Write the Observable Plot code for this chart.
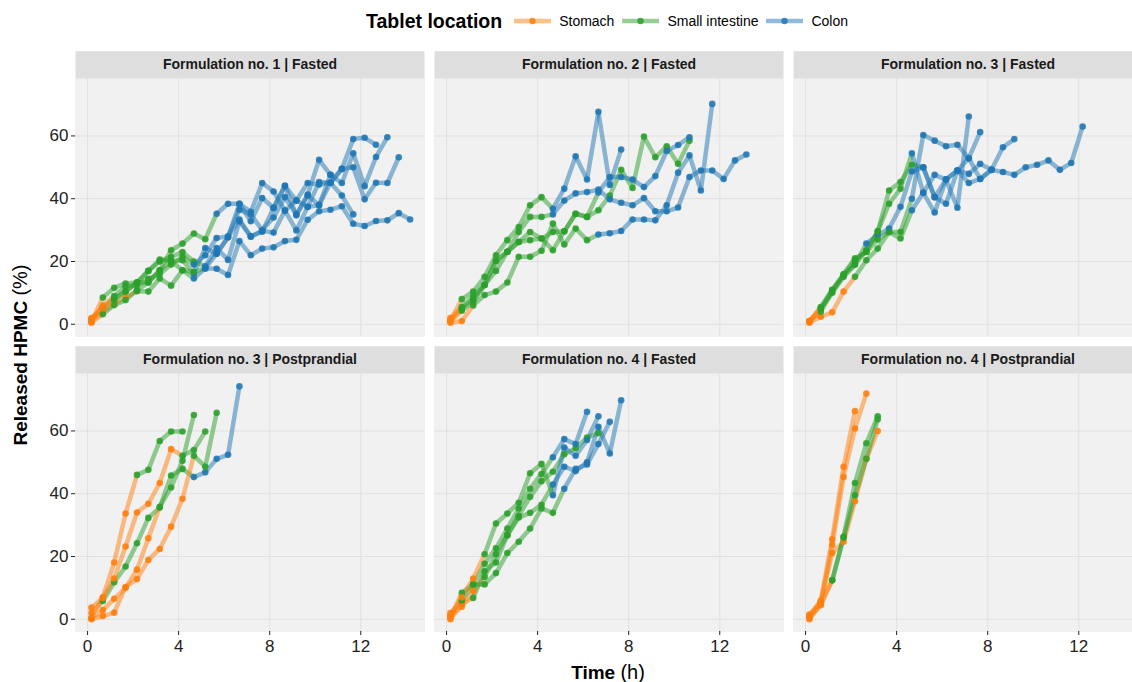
<!DOCTYPE html>
<html>
<head>
<meta charset="utf-8">
<script src="https://cdn.jsdelivr.net/npm/d3@7"></script>
<script src="https://cdn.jsdelivr.net/npm/@observablehq/plot@0.6"></script>
<style>
  html, body { margin: 0; padding: 0; background: #fff; }
  #wrap { position: relative; width: 1132px; height: 682px; overflow: hidden; background: #fff;
          font-family: "Liberation Sans", Arial, Helvetica, sans-serif; color: #000; }
  #chart { position: absolute; left: 0; top: 0; }
  #chart svg { max-width: none !important; }
  #legend { position: absolute; left: 366px; top: 8px; height: 26px; display: flex; align-items: center; white-space: nowrap; }
  #legend .title { font-weight: bold; font-size: 19.5px; margin-right: 12px; }
  #legend .key { display: flex; align-items: center; margin-right: 8px; }
  #legend .key span { font-size: 14px; margin-left: 8px; }
  #ylabel { position: absolute; left: 20px; top: 355px; transform: translate(-50%, -50%) rotate(-90deg);
            white-space: nowrap; font-size: 19px; line-height: 1; }
  #xlabel { position: absolute; left: 608px; top: 672px; transform: translate(-50%, -50%);
            white-space: nowrap; font-size: 19px; line-height: 1; }
  .b { font-weight: bold; }
  .paren { font-weight: normal; font-size: 20px; }
</style>
</head>
<body>
<div id="wrap">
  <div id="chart"></div>
  <div id="legend"><span class="title">Tablet location</span></div>
  <div id="ylabel"><span class="b">Released HPMC</span> <span class="paren">(%)</span></div>
  <div id="xlabel"><span class="b">Time</span> <span class="paren">(h)</span></div>
</div>
<script>
// ---------- data ----------
const times = [0.17, 0.67, 1.17, 1.67, 2.17, 2.67, 3.17, 3.67, 4.17, 4.67, 5.17, 5.67, 6.17, 6.67, 7.17,
               7.67, 8.17, 8.67, 9.17, 9.67, 10.17, 10.67, 11.17, 11.67, 12.17, 12.67, 13.17, 13.67, 14.17];
const xTicks = [0, 4, 8, 12];
const yTicks = [0, 20, 40, 60];
const panelTitles = ["Formulation no. 1 | Fasted", "Formulation no. 2 | Fasted", "Formulation no. 3 | Fasted",
                     "Formulation no. 3 | Postprandial", "Formulation no. 4 | Fasted", "Formulation no. 4 | Postprandial"];
const locationNames = ["Stomach", "Small intestine", "Colon"];
const locationColors = ["#ff7f0e", "#2ca02c", "#1f77b4"];
const locationCodes = {S: "Stomach", I: "Small intestine", C: "Colon"};

// Released HPMC (%) per subject at the sampling times; location code per sample
const f1FastedValues = [
  [1.0,4.0,6.5,8.5,10.5,10.4,14.6,12.3,17.2,14.6,17.8,17.7,15.7,26.5,22.0,24.1,24.5,26.5,26.9,33.3,36.0,36.5,37.6,32.0,31.3,32.9,33.1,35.4,33.4],
  [2.0,5.3,8.3,10.4,13.3,13.3,17.2,20.1,20.4,16.2,24.3,22.5,27.7,33.4,27.9,29.8,29.2,36.2,29.9,37.4,37.9,45.1,41.0,35.0],
  [0.5,3.2,6.1,7.7,10.9,13.3,17.2,23.6,25.7,28.9,27.1,35.2,38.4,38.4,32.8,40.2,37.1,44.1,34.7,41.3,52.4,47.6,45.0,54.5,44.0,53.3,59.6],
  [1.5,5.1,7.7,10.4,13.3,17.0,20.6,20.1,17.2,16.7,17.8,22.5,27.7,38.4,35.8,45.0,42.3,36.2,39.4,37.4,45.3,45.1,49.5,50.0,39.8,45.1,45.0,53.2],
  [0.8,8.5,11.6,13.0,13.3,17.0,20.0,21.5,23.0,20.0,18.5,24.3,20.5,32.8,28.0,29.5,37.0,44.1,39.4,45.0,44.5,45.1,49.5,59.0,59.4,57.2],
  [1.2,6.0,9.0,12.0,12.5,14.5,16.0,19.0,21.5,19.0,22.0,27.5,28.0,36.5,35.0,30.0,34.0,40.5,35.0,41.0,38.0,47.6]
];
const f1FastedLocations = [
  "SSSSIIIIICCCCCCCCCCCCCCCCCCCC",
  "SIIIIIIIICCCCCCCCCCCCCCC",
  "SIIIIIIIIIICCCCCCCCCCCCCCCC",
  "SSIIIIIIIICCCCCCCCCCCCCCCCCC",
  "SIIIIIIIIICCCCCCCCCCCCCCCC",
  "SSIIIIIIICCCCCCCCCCCCC"
];
const f2FastedValues = [
  [1.0,4.3,7.2,12.5,20.2,23.1,26.2,29.4,27.3,23.6,29.6,35.2,34.2,36.3,41.0,49.2,43.4,59.8,53.2,56.7,51.1,58.5],
  [1.0,8.0,10.4,15.1,22.0,26.8,31.0,37.9,40.5,36.8,43.2,53.5,46.1,67.7,44.4,55.7],
  [1.2,5.0,8.0,12.5,20.2,23.1,29.4,34.2,34.2,35.0,39.4,41.7,42.1,42.9,39.8,38.7,37.9,40.2,36.0,36.0,37.2,46.9,49.0,49.0,46.3,52.2,54.1],
  [0.5,1.0,6.0,9.3,10.4,13.3,21.5,21.5,23.4,32.1,25.4,30.5,26.8,28.6,29.0,29.7,33.4,33.4,33.1,37.9,48.3,53.8,42.6,70.2],
  [2.0,5.5,9.0,12.5,17.0,23.1,26.2,26.8,27.3,29.4,29.6,35.2,34.2,42.0,46.9,46.9,46.1,43.7,47.2,55.2,57.1,59.6]
];
const f2FastedLocations = [
  "SIIIIIIIIIIIIIIIIIIIII",
  "SIIIIIIIICCCCCCC",
  "SIIIIIIIICCCCCCCCCCCCCCCCCC",
  "SSIIIIIIIIIIICCCCCCCCCCC",
  "SIIIIIIIIIIIICCCCCCCCC"
];
const f3FastedValues = [
  [0.5,2.4,3.8,10.4,15.1,20.4,24.1,29.4,27.3,36.3,41.9,47.6,46.1,49.0,45.0,46.3,49.2,48.5,47.6,50.0,50.8,52.2,49.2,51.4,63.0],
  [1.0,5.1,10.9,15.7,19.0,25.7,28.4,30.5,37.4,48.7,50.0,40.5,38.4,49.0,47.9,51.1,49.2,56.4,59.0],
  [0.8,5.0,10.0,15.1,19.0,23.6,29.6,42.6,45.3,50.8,50.0,40.5,46.1,49.0,52.9,61.2],
  [1.0,4.0,10.4,15.7,20.4,23.1,29.6,38.4,43.2,54.5,41.9,35.6,46.1,37.1,66.2],
  [1.0,5.5,11.0,16.0,21.0,23.0,27.0,29.4,29.4,40.0,60.3,58.5,56.7,57.2,52.9,46.3,49.2]
];
const f3FastedLocations = [
  "SSSSIIIIICCCCCCCCCCCCCCCC",
  "SIIIICCCCCCCCCCCCCC",
  "SIIIIIIIIICCCCCC",
  "SIIIIIIIICCCCCC",
  "SIIIIIIIICCCCCCCC"
];
const f3PostValues = [
  [2.0,5.8,11.8,16.8,24.2,32.3,35.6,45.8,47.9,45.3,46.8,51.1,52.4,74.2],
  [0.5,7.0,18.1,33.7,46.0,47.6,56.8,59.8,59.8],
  [3.7,6.8,13.0,23.2,34.0,36.8,43.4,54.2,52.1,53.9,59.8],
  [0.3,2.9,6.5,10.0,15.8,25.8,35.8,42.0,50.5,65.1],
  [0.0,1.0,2.1,10.3,12.8,18.9,22.4,29.5,38.4,52.1,48.6,65.8]
];
const f3PostLocations = [
  "SIIIIIIIICCCCC",
  "SSSSIIIII",
  "SSSSSSSSIII",
  "SSSSSSIIII",
  "SSSSSSSSSIII"
];
const f4FastedValues = [
  [1.0,4.0,9.0,13.5,20.7,26.8,33.0,39.0,44.0,47.0,52.6,54.5,57.9,59.3],
  [0.5,8.4,11.1,17.7,22.6,28.9,35.3,41.6,46.3,51.6,57.4,55.8,66.1],
  [0.0,5.0,6.8,15.3,18.1,26.8,32.4,33.9,36.5,42.9,48.6,47.2,50.0,61.3,52.8,69.8],
  [2.0,6.0,11.1,11.1,14.7,21.1,24.7,28.9,35.3,33.9,41.6,47.9,49.3,55.8,62.9],
  [1.0,7.0,13.0,20.7,30.5,33.7,37.1,46.5,49.5,39.5,54.7,52.1,57.1,64.7]
];
const f4FastedLocations = [
  "SSSIIIIIIIIIII",
  "SIIIIIIIICCCC",
  "SSIIIIIIICCCCCCC",
  "SIIIIIIIIICCCCC",
  "SSSIIIIIICCCCC"
];
const f4PostValues = [
  [1.0,6.0,25.5,48.6,66.3],
  [0.0,5.0,23.7,45.3,60.8,71.9],
  [1.5,5.5,21.1,24.7,37.6,51.1,60.0],
  [0.5,4.5,12.4,26.3,43.4,56.1,64.7],
  [1.0,5.0,12.4,26.0,39.5,51.1,63.7]
];
const f4PostLocations = [
  "SSSSS",
  "SSSSSS",
  "SSSSSSS",
  "SSIIIII",
  "SSIIIII"
];

// ---------- build tables ----------
const panelValues = [f1FastedValues, f2FastedValues, f3FastedValues, f3PostValues, f4FastedValues, f4PostValues];
const panelLocations = [f1FastedLocations, f2FastedLocations, f3FastedLocations, f3PostLocations, f4FastedLocations, f4PostLocations];

const points = [];
const segments = [];
const panels = panelTitles.map((title, p) => ({title, col: p % 3, row: Math.floor(p / 3)}));
panelValues.forEach((subjects, p) => {
  const {col, row} = panels[p];
  subjects.forEach((vals, s) => {
    const locs = panelLocations[p][s];
    vals.forEach((v, k) => {
      points.push({col, row, subject: s, t: times[k], y: v, loc: locationCodes[locs[k]]});
      if (k < vals.length - 1) {
        segments.push({col, row, subject: s, t1: times[k], y1: v, t2: times[k + 1], y2: vals[k + 1], loc: locationCodes[locs[k]]});
      }
    });
  });
});

// ---------- chart ----------
const chart = Plot.plot({
  width: 1146,
  height: 682,
  marginLeft: 74,
  marginRight: 2.7,
  marginTop: 77.5,
  marginBottom: 50.3,
  style: {fontFamily: "'Liberation Sans', Arial, Helvetica, sans-serif", background: "transparent", maxWidth: "none"},
  fx: {domain: [0, 1, 2], paddingInner: 0.0268, paddingOuter: 0, axis: null, label: null},
  fy: {domain: [0, 1], paddingInner: 0.124, paddingOuter: 0, axis: null, label: null},
  x: {domain: [-0.53, 14.8], ticks: xTicks},
  y: {domain: [-3.9, 78.3], ticks: yTicks},
  color: {domain: locationNames, range: locationColors},
  marks: [
    Plot.frame({fill: "#dedede", stroke: null, insetTop: -27.3}),
    Plot.frame({fill: "#f1f1f1", stroke: null}),
    Plot.gridX(xTicks, {stroke: "#e0e0e0", strokeOpacity: 1, strokeWidth: 1}),
    Plot.gridY(yTicks, {stroke: "#e0e0e0", strokeOpacity: 1, strokeWidth: 1}),
    Plot.axisX(xTicks, {tickSize: 4, tickPadding: 4, fontSize: 17, color: "#222", label: null}),
    Plot.axisY(yTicks, {tickSize: 4, tickPadding: 3, fontSize: 17, color: "#222", label: null}),
    Plot.text(panels, {fx: "col", fy: "row", text: "title", frameAnchor: "top", lineAnchor: "middle", dy: -13.6,
                       fontWeight: "bold", fontSize: 14, fill: "#1a1a1a"}),
    Plot.link(segments, {fx: "col", fy: "row", x1: "t1", y1: "y1", x2: "t2", y2: "y2",
                         stroke: "loc", strokeWidth: 4.5, strokeOpacity: 0.5, strokeLinecap: "round"}),
    Plot.dot(points, {fx: "col", fy: "row", x: "t", y: "y", fill: "loc", r: 3.3, fillOpacity: 0.85})
  ]
});
document.getElementById("chart").appendChild(chart);

// ---------- legend ----------
const legend = document.getElementById("legend");
locationNames.forEach((name, i) => {
  const key = document.createElement("div");
  key.className = "key";
  const ns = "http://www.w3.org/2000/svg";
  const svg = document.createElementNS(ns, "svg");
  svg.setAttribute("width", "37");
  svg.setAttribute("height", "14");
  const line = document.createElementNS(ns, "line");
  line.setAttribute("x1", "0"); line.setAttribute("x2", "37");
  line.setAttribute("y1", "7"); line.setAttribute("y2", "7");
  line.setAttribute("stroke", locationColors[i]);
  line.setAttribute("stroke-width", "4.5");
  line.setAttribute("stroke-opacity", "0.5");
  const dot = document.createElementNS(ns, "circle");
  dot.setAttribute("cx", "18.5"); dot.setAttribute("cy", "7"); dot.setAttribute("r", "3.2");
  dot.setAttribute("fill", locationColors[i]);
  dot.setAttribute("fill-opacity", "0.85");
  svg.appendChild(line); svg.appendChild(dot);
  const label = document.createElement("span");
  label.textContent = name;
  key.appendChild(svg); key.appendChild(label);
  legend.appendChild(key);
});
</script>
</body>
</html>
